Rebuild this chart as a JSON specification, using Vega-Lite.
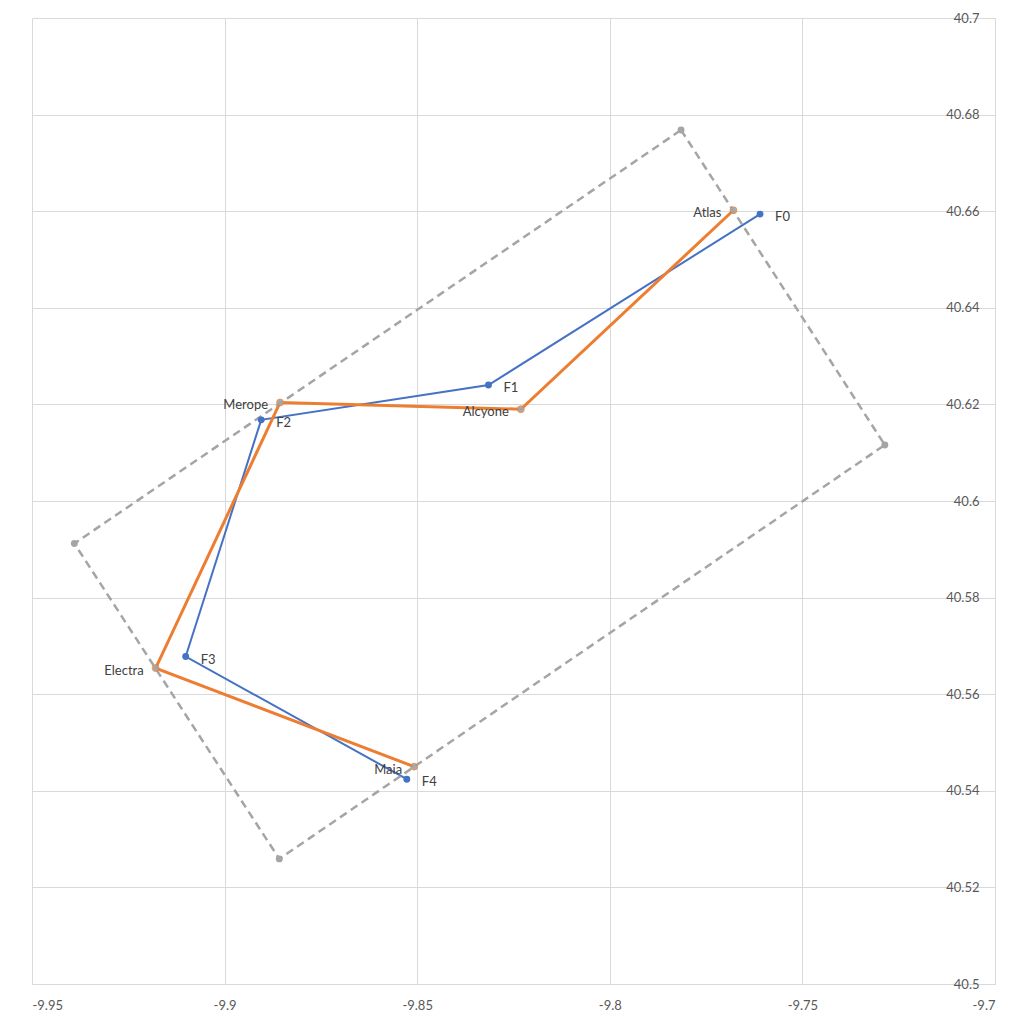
{
  "$schema": "https://vega.github.io/schema/vega-lite/v6.json",
  "width": 963,
  "height": 966,
  "autosize": {"type": "none"},
  "padding": {"left": 32, "top": 18, "right": 29, "bottom": 40},
  "background": "white",
  "config": {
    "view": {"stroke": null},
    "font": "Lato"
  },
  "data": {
    "values": [
      {"series": "F", "order": 0, "x": -9.7610, "y": 40.6594, "label": "F0"},
      {"series": "F", "order": 1, "x": -9.8315, "y": 40.6240, "label": "F1"},
      {"series": "F", "order": 2, "x": -9.8905, "y": 40.6168, "label": "F2"},
      {"series": "F", "order": 3, "x": -9.9101, "y": 40.5678, "label": "F3"},
      {"series": "F", "order": 4, "x": -9.8527, "y": 40.5424, "label": "F4"},
      {"series": "Star", "order": 0, "x": -9.7679, "y": 40.6602, "label": "Atlas"},
      {"series": "Star", "order": 1, "x": -9.8231, "y": 40.6190, "label": "Alcyone"},
      {"series": "Star", "order": 2, "x": -9.8856, "y": 40.6204, "label": "Merope"},
      {"series": "Star", "order": 3, "x": -9.9179, "y": 40.5654, "label": "Electra"},
      {"series": "Star", "order": 4, "x": -9.8508, "y": 40.5450, "label": "Maia"},
      {"series": "Box", "order": 0, "x": -9.7815, "y": 40.6768, "label": ""},
      {"series": "Box", "order": 1, "x": -9.7286, "y": 40.6116, "label": ""},
      {"series": "Box", "order": 2, "x": -9.8858, "y": 40.5259, "label": ""},
      {"series": "Box", "order": 3, "x": -9.9390, "y": 40.5912, "label": ""},
      {"series": "Box", "order": 4, "x": -9.7815, "y": 40.6768, "label": ""}
    ]
  },
  "encoding": {
    "x": {
      "field": "x", "type": "quantitative",
      "scale": {"domain": [-9.95, -9.7], "nice": false, "zero": false},
      "axis": {
        "title": null,
        "values": [-9.95, -9.9, -9.85, -9.8, -9.75, -9.7],
        "labelExpr": "replace(format(datum.value, '.2~f'), '\u2212', '-')",
        "grid": true, "gridColor": "#d9d9d9", "gridWidth": 1,
        "domain": true, "domainColor": "#d9d9d9",
        "ticks": false, "labelPadding": 15,
        "labelFontSize": 13, "labelColor": "#595959", "labelFont": "Lato"
      }
    },
    "y": {
      "field": "y", "type": "quantitative",
      "scale": {"domain": [40.5, 40.7], "nice": false, "zero": false},
      "axis": {
        "title": null, "orient": "right",
        "values": [40.5, 40.52, 40.54, 40.56, 40.58, 40.6, 40.62, 40.64, 40.66, 40.68, 40.7],
        "labelExpr": "format(datum.value, '.2~f')",
        "grid": true, "gridColor": "#d9d9d9", "gridWidth": 1,
        "domain": true, "domainColor": "#d9d9d9",
        "ticks": false, "labelPadding": -16, "labelAlign": "right",
        "labelBaseline": "middle",
        "labelFontSize": 13, "labelColor": "#595959", "labelFont": "Lato"
      }
    }
  },
  "layer": [
    {
      "transform": [{"filter": "datum.series == 'F'"}],
      "mark": {"type": "line", "color": "#4472c4", "strokeWidth": 2},
      "encoding": {"order": {"field": "order"}}
    },
    {
      "transform": [{"filter": "datum.series == 'Star'"}],
      "mark": {"type": "line", "color": "#ed7d31", "strokeWidth": 3},
      "encoding": {"order": {"field": "order"}}
    },
    {
      "transform": [{"filter": "datum.series == 'Box'"}],
      "mark": {"type": "line", "color": "#a5a5a5", "strokeWidth": 2.5, "strokeDash": [8, 5]},
      "encoding": {"order": {"field": "order"}}
    },
    {
      "transform": [{"filter": "datum.series == 'F'"}],
      "mark": {"type": "circle", "color": "#4472c4", "size": 48, "opacity": 1}
    },
    {
      "transform": [{"filter": "datum.series == 'Star'"}],
      "mark": {"type": "circle", "fill": "#a5a5a5", "stroke": "#ed7d31", "strokeWidth": 0.8, "size": 48, "opacity": 0.9}
    },
    {
      "transform": [{"filter": "datum.series == 'Box' && datum.order < 4"}],
      "mark": {"type": "circle", "color": "#a5a5a5", "size": 48, "opacity": 1}
    },
    {
      "transform": [{"filter": "datum.series == 'F'"}],
      "mark": {"type": "text", "align": "left", "baseline": "middle", "dx": 15, "dy": 3, "fontSize": 13, "color": "#404040", "font": "Lato"},
      "encoding": {"text": {"field": "label"}}
    },
    {
      "transform": [{"filter": "datum.series == 'Star'"}],
      "mark": {"type": "text", "align": "right", "baseline": "middle", "dx": -12, "dy": 3, "fontSize": 13, "color": "#404040", "font": "Lato"},
      "encoding": {"text": {"field": "label"}}
    }
  ]
}
